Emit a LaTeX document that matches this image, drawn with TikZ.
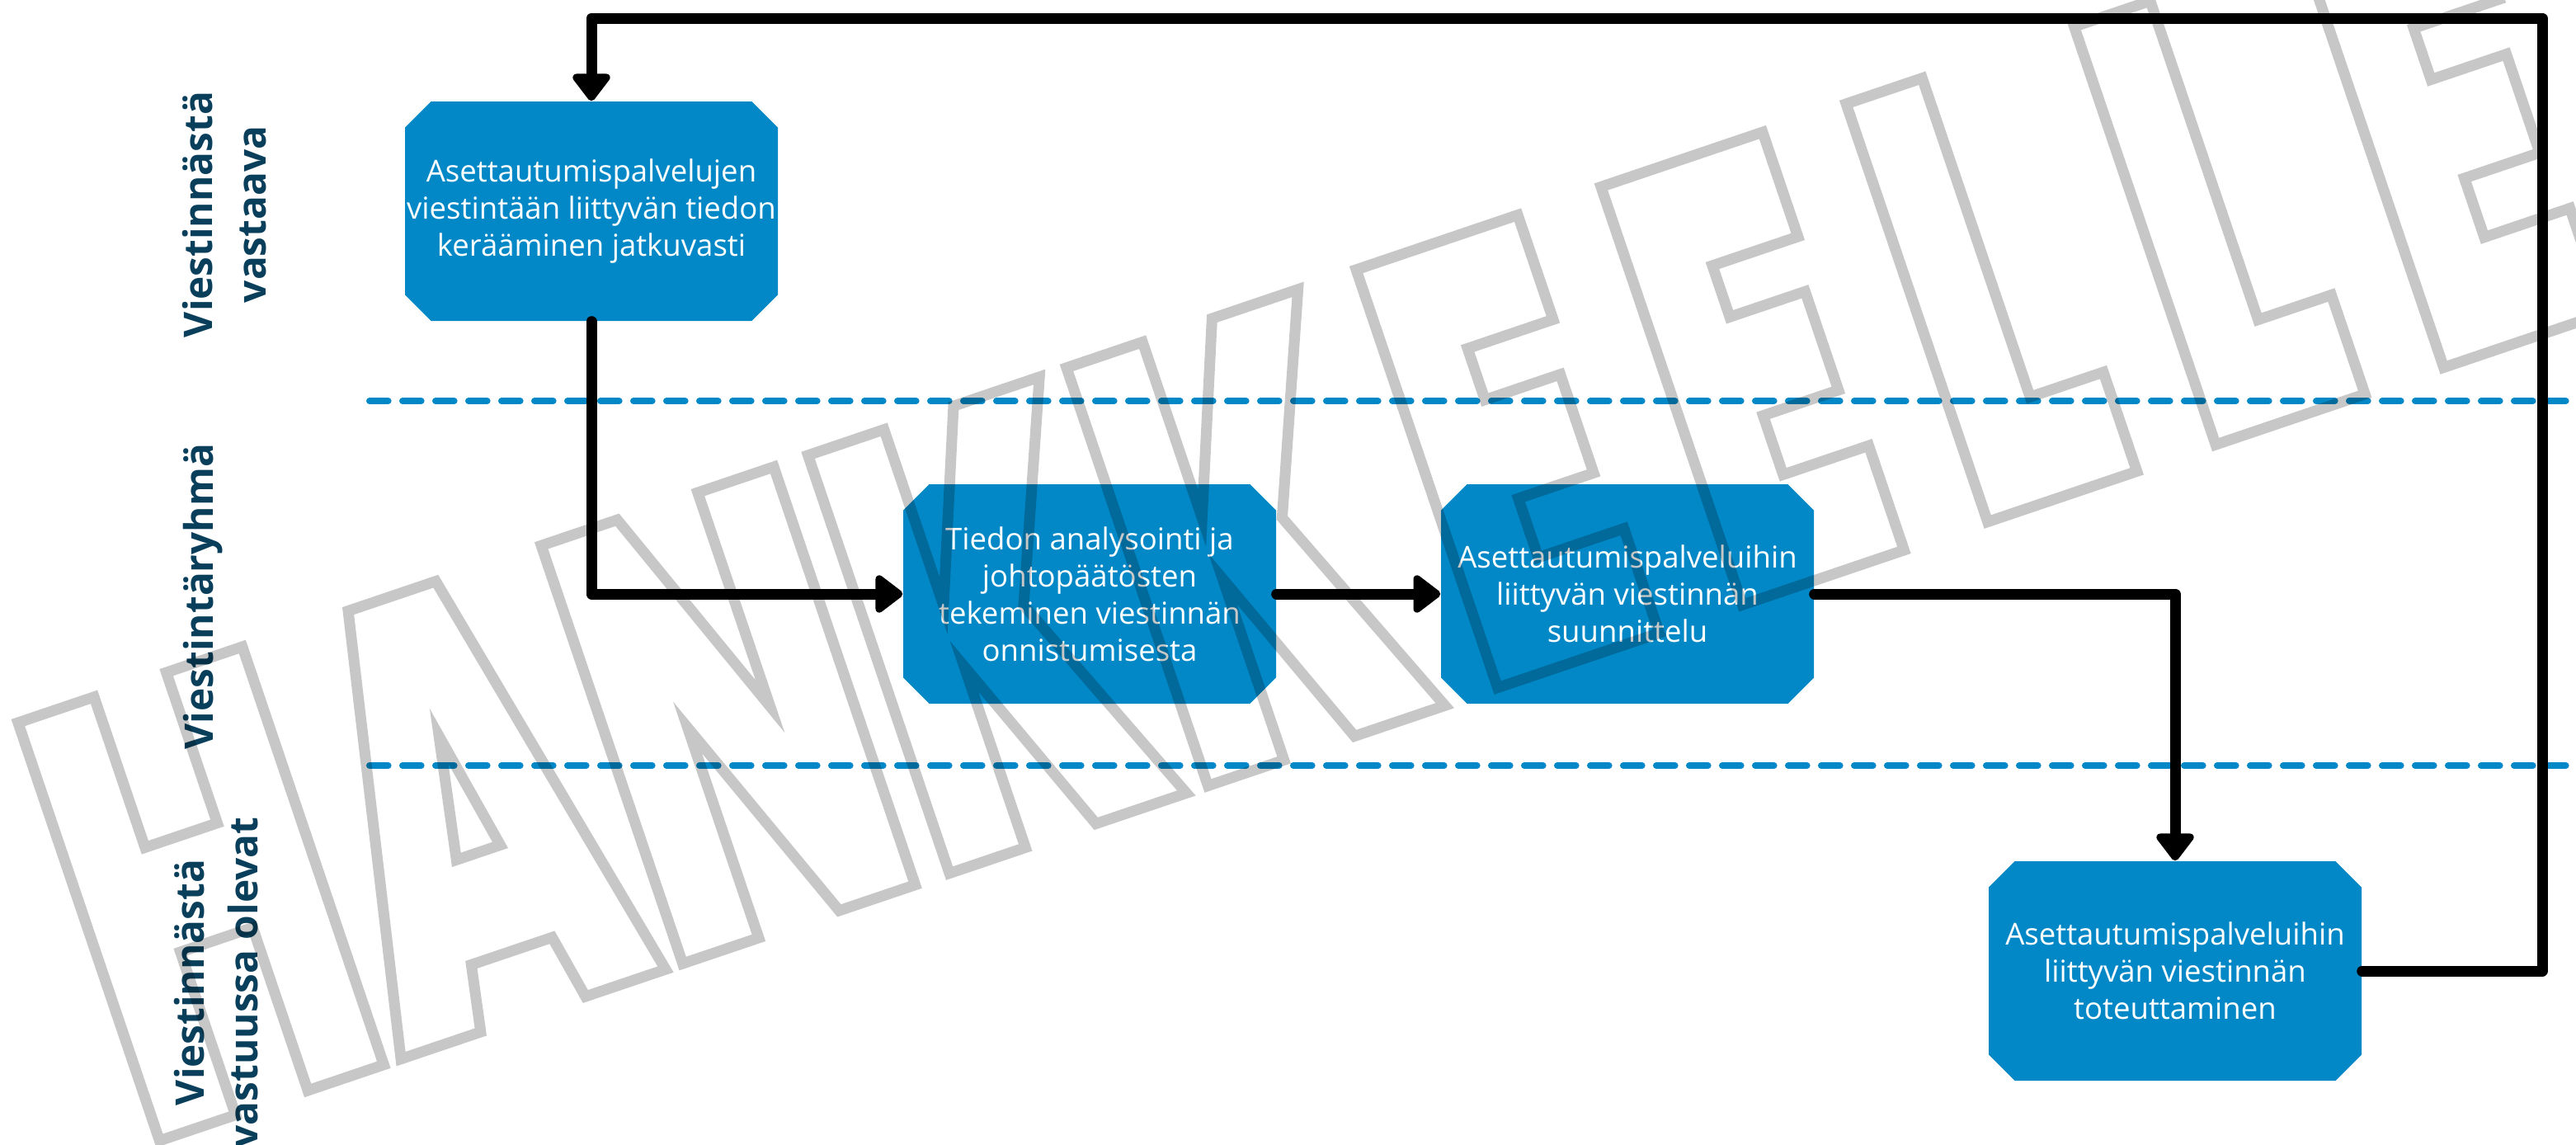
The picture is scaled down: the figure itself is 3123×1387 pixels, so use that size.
\documentclass[tikz,border=0pt]{standalone}
\usepackage{fontspec}
\setmainfont{Open Sans}
\newfontfamily\markfont{Poppins Black}[FakeStretch=0.58]
\usetikzlibrary{arrows.meta,shapes.misc}

\definecolor{boxblue}{HTML}{0288C6}
\definecolor{lanenavy}{HTML}{0A3F5C}

\tikzset{
  stepbox/.style={chamfered rectangle, chamfered rectangle xsep=1.9mm, fill=boxblue,
    minimum width=45.2mm, minimum height=26.6mm, inner xsep=-1.9mm, inner ysep=0pt,
    align=center, text=white, font=\fontsize{10.4}{12.8}\selectfont},
  lanelabel/.style={rotate=90, align=center, inner sep=0pt, text=lanenavy,
    font=\bfseries\fontsize{13.6}{18.5}\selectfont},
  laneline/.style={boxblue, line width=0.8mm, line cap=round,
    dash pattern=on 2.26mm off 1.74mm},
  flow/.style={line width=1.3mm, line cap=round, line join=round,
    -{Triangle[width=5.2mm,length=3.6mm,round]}},
  stamptext/.style={anchor=base west, inner sep=0pt, rotate=18.7, text=black,
    font=\markfont\fontsize{215}{215}\selectfont}
}

\begin{document}
\begin{tikzpicture}[x=0.1mm,y=-0.1mm]
\useasboundingbox (0,0) rectangle (3123,1387);
\foreach \y in {486,928} % lane borders
\draw[laneline] (448,\y) -- (3123,\y);

% lane titles
\node[lanelabel] (lane1) at (272,260) {Viestinnästä\\vastaava};
\node[lanelabel] (lane2) at (246,723) {Viestintäryhmä};
\node[lanelabel] (lane3) at (262,1191) {Viestinnästä\\vastuussa olevat};

% process steps
\node[stepbox] (collect) at (717,256) {Asettautumispalvelujen\\viestintään liittyvän tiedon\\kerääminen jatkuvasti};
\node[stepbox] (analyse) at (1321,720) {Tiedon analysointi ja\\johtopäätösten\\tekeminen viestinnän\\onnistumisesta};
\node[stepbox] (plan) at (1973,720) {Asettautumispalveluihin\\liittyvän viestinnän\\suunnittelu};
\node[stepbox] (impl) at (2637,1177) {Asettautumispalveluihin\\liittyvän viestinnän\\toteuttaminen};

% arrows
\coordinate (back) at (3082,22);
\draw[flow] (impl.east) -| (back) -| (collect.north);
\draw[flow] (collect.south) |- (analyse.west);
\draw[flow] (analyse.east) -- (plan.west);
\draw[flow] (plan.east) -| (impl.north);

% watermark, outlined letters
\begin{scope}[opacity=0.22]
\node[stamptext] (stamp) at (172,1390) {\special{pdf:literal direct 1 Tr 3.7 w}HANKK\kern4mm E\kern7mm E\kern7mm L\kern7mm L\kern7mm E\special{pdf:literal direct 0 Tr}};
\end{scope}
\end{tikzpicture}
\end{document}
